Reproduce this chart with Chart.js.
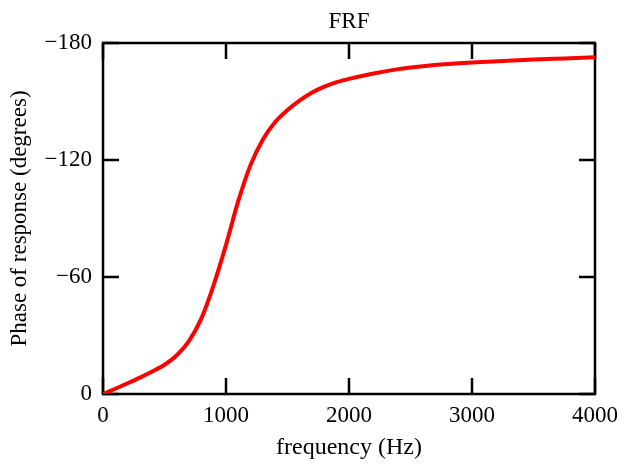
<!DOCTYPE html>
<html>
<head>
<meta charset="utf-8">
<script src="https://cdn.jsdelivr.net/npm/chart.js@4.4.1/dist/chart.umd.min.js"></script>
<style>
  html, body { margin: 0; padding: 0; background: #fff; }
  #wrap { width: 631px; height: 466px; }
</style>
</head>
<body>
<div id="wrap"><canvas id="frf"></canvas></div>
<script>
// frequency (Hz) and phase (degrees)
const freq  = [0, 100, 200, 300, 400, 500, 600, 700, 800, 900, 1000, 1100, 1200, 1300, 1400, 1500, 1600, 1700, 1800, 1900, 2000, 2200, 2400, 2600, 2800, 3000, 3250, 3500, 3750, 4000];
const phase = [0, -2.7, -5.5, -8.4, -11.5, -15.0, -19.9, -27.3, -38.8, -56, -76.5, -99, -117.5, -130.5, -139.5, -145.6, -150.6, -154.6, -157.6, -159.9, -161.6, -164.4, -166.6, -168.1, -169.2, -170.0, -170.8, -171.5, -172.1, -172.7];
const xTicks = [0, 1000, 2000, 3000, 4000];
const yTicks = [-180, -120, -60, 0];

const serif = '"Liberation Serif", serif';

// frame + inward ticks on all four sides
const frameTicks = {
    id: 'frameTicks',
    beforeDatasetsDraw(chart) {
        const ctx = chart.ctx;
        const a = chart.chartArea;
        const sx = chart.scales.x, sy = chart.scales.y;
        const len = 16;
        ctx.save();
        ctx.strokeStyle = '#000';
        ctx.lineWidth = 2.5;
        ctx.strokeRect(a.left, a.top, a.right - a.left, a.bottom - a.top);
        ctx.beginPath();
        xTicks.forEach(v => {
            const px = sx.getPixelForValue(v);
            ctx.moveTo(px, a.bottom); ctx.lineTo(px, a.bottom - len);
            ctx.moveTo(px, a.top); ctx.lineTo(px, a.top + len);
        });
        yTicks.forEach(v => {
            const py = sy.getPixelForValue(v);
            ctx.moveTo(a.left, py); ctx.lineTo(a.left + len, py);
            ctx.moveTo(a.right, py); ctx.lineTo(a.right - len, py);
        });
        ctx.stroke();
        ctx.restore();
    }
};

new Chart(document.getElementById('frf'), {
    type: 'line',
    data: {
        datasets: [{
            data: freq.map((f, i) => ({ x: f, y: phase[i] })),
            borderColor: '#ff0000',
            borderWidth: 4,
            pointRadius: 0,
            fill: false,
            cubicInterpolationMode: 'monotone'
        }]
    },
    options: {
        responsive: true,
        maintainAspectRatio: false,
        animation: false,
        layout: { padding: { left: 0, right: 36, top: 0, bottom: 0 } },
        plugins: {
            legend: { display: false },
            tooltip: { enabled: false },
            title: {
                display: true,
                fullSize: false,
                text: 'FRF',
                color: '#000',
                font: { family: serif, size: 23, weight: 'normal' },
                padding: { top: 8, bottom: 7.4 }
            }
        },
        scales: {
            x: {
                type: 'linear',
                min: 0,
                max: 4000,
                afterFit: s => { s.height = 72; },
                afterBuildTicks: s => { s.ticks = xTicks.map(v => ({ value: v })); },
                grid: { display: false, drawTicks: false },
                border: { display: false },
                ticks: {
                    color: '#000',
                    padding: 8,
                    maxRotation: 0,
                    font: { family: serif, size: 23 },
                    callback: v => String(v)
                },
                title: {
                    display: true,
                    text: 'frequency (Hz)',
                    color: '#000',
                    font: { family: serif, size: 24 },
                    padding: { top: 0, bottom: 4 }
                }
            },
            y: {
                type: 'linear',
                min: -180,
                max: 0,
                reverse: true,
                afterFit: s => { s.width = 103; },
                afterBuildTicks: s => { s.ticks = yTicks.map(v => ({ value: v })); },
                grid: { display: false, drawTicks: false },
                border: { display: false },
                ticks: {
                    color: '#000',
                    padding: 11,
                    font: { family: serif, size: 23 },
                    callback: v => v === 0 ? '0' : '\u2212' + Math.abs(v)
                },
                title: {
                    display: true,
                    text: 'Phase of response (degrees)',
                    color: '#000',
                    font: { family: serif, size: 23 },
                    padding: { top: 6, bottom: 0 }
                }
            }
        }
    },
    plugins: [frameTicks]
});
</script>
</body>
</html>
